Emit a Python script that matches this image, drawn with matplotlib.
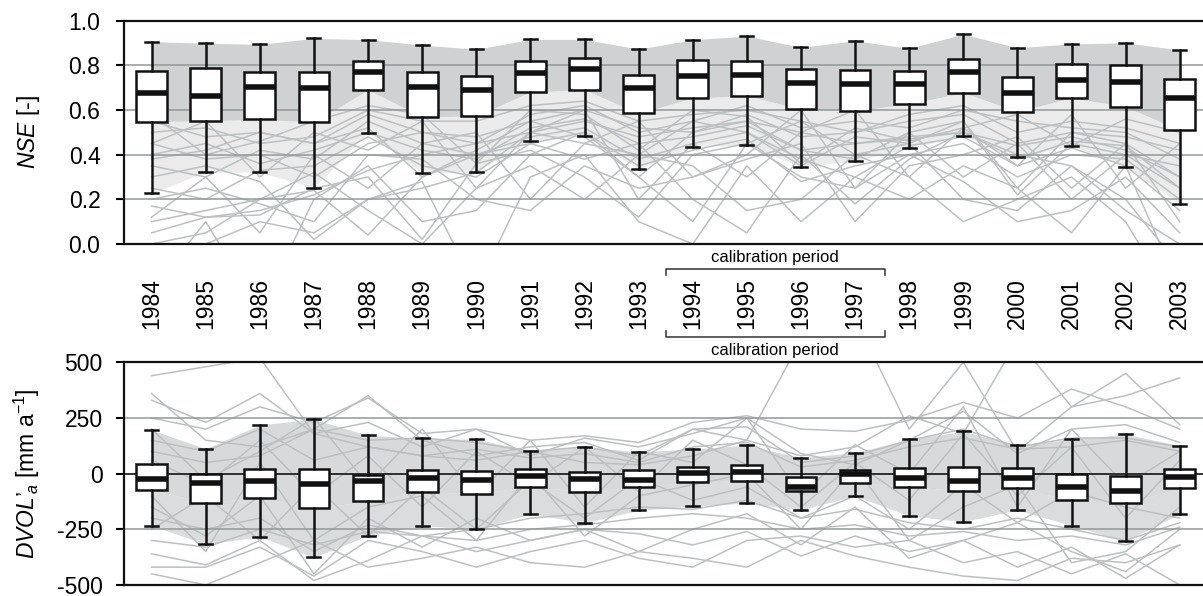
import numpy as np
import matplotlib
matplotlib.use("Agg")
import matplotlib.pyplot as plt
from matplotlib.lines import Line2D
from matplotlib.transforms import blended_transform_factory

plt.rcParams['font.family'] = ['Liberation Sans', 'DejaVu Sans']
plt.rcParams['mathtext.fontset'] = 'custom'
plt.rcParams['mathtext.rm'] = 'Liberation Sans'
plt.rcParams['mathtext.it'] = 'Liberation Sans:italic'
plt.rcParams['axes.unicode_minus'] = False

years = list(range(1984, 2004))
calib_years = [1994, 1997]

# NSE box statistics per year
nse_lo = [0.227, 0.322, 0.322, 0.252, 0.499, 0.319, 0.324, 0.463, 0.485, 0.337,
          0.436, 0.443, 0.346, 0.372, 0.428, 0.485, 0.391, 0.440, 0.346, 0.179]
nse_q1 = [0.548, 0.552, 0.558, 0.546, 0.690, 0.570, 0.573, 0.681, 0.691, 0.585,
          0.654, 0.664, 0.604, 0.597, 0.627, 0.678, 0.593, 0.655, 0.615, 0.510]
nse_med = [0.678, 0.663, 0.704, 0.697, 0.769, 0.704, 0.690, 0.767, 0.785, 0.700,
           0.752, 0.757, 0.719, 0.715, 0.715, 0.772, 0.676, 0.736, 0.727, 0.652]
nse_q3 = [0.773, 0.788, 0.769, 0.770, 0.818, 0.772, 0.752, 0.821, 0.831, 0.758,
          0.822, 0.819, 0.782, 0.779, 0.776, 0.830, 0.746, 0.807, 0.801, 0.739]
nse_hi = [0.906, 0.899, 0.894, 0.921, 0.915, 0.891, 0.872, 0.916, 0.916, 0.873,
          0.915, 0.931, 0.881, 0.910, 0.876, 0.940, 0.879, 0.896, 0.901, 0.869]

# DVOL'a box statistics per year [mm a-1]
dv_lo = [-233, -317, -283, -376, -278, -233, -250, -181, -220, -165,
         -145, -133, -163, -100, -190, -216, -163, -233, -302, -181]
dv_q1 = [-73, -130, -108, -156, -123, -81, -90, -58, -81, -58,
         -39, -31, -78, -40, -58, -78, -66, -118, -133, -66]
dv_med = [-22, -43, -33, -46, -31, -18, -28, -10, -22, -30,
          2, 9, -58, -3, -21, -33, -18, -58, -76, -13]
dv_q3 = [43, 0, 22, 19, -5, 16, 13, 19, 9, 16,
         31, 40, -13, 16, 27, 31, 27, -3, -9, 19]
dv_hi = [196, 112, 219, 244, 172, 159, 154, 103, 121, 97,
         111, 127, 72, 94, 154, 190, 129, 154, 177, 126]

# some of the individual catchment series (estimated)
nse_lines = [
    [0.17, 0.12, 0.15, 0.22, 0.33, 0.40, 0.45, 0.50, 0.55, 0.48, 0.52, 0.55, 0.50, 0.45, 0.47, 0.50, 0.44, 0.48, 0.42, 0.30],
    [0.05, 0.12, 0.13, 0.25, 0.30, 0.02, 0.36, 0.42, 0.30, 0.12, 0.40, 0.45, 0.30, 0.25, 0.40, 0.28, 0.10, 0.15, 0.30, 0.05],
    [0.10, 0.15, 0.20, 0.24, 0.04, 0.30, 0.40, 0.45, 0.38, 0.45, 0.20, 0.05, 0.40, 0.18, 0.38, 0.50, 0.40, 0.35, 0.20, -0.10],
    [0.30, 0.35, 0.28, 0.02, 0.20, 0.25, 0.32, 0.50, 0.45, 0.40, 0.55, 0.50, 0.35, 0.48, 0.45, 0.55, 0.22, 0.45, 0.40, 0.35],
    [-0.20, 0.10, -0.30, 0.20, 0.35, 0.10, 0.15, 0.40, 0.50, 0.30, 0.10, 0.45, 0.55, 0.40, 0.45, 0.20, 0.15, 0.35, 0.15, 0.00],
    [0.45, 0.38, 0.40, 0.30, 0.45, 0.50, 0.48, 0.55, 0.60, 0.52, 0.50, 0.58, 0.48, 0.50, 0.55, 0.58, 0.45, 0.50, 0.48, 0.42],
    [0.40, 0.45, 0.36, 0.42, 0.50, 0.42, 0.38, 0.52, 0.56, 0.45, 0.48, 0.53, 0.42, 0.45, 0.48, 0.50, 0.38, 0.46, 0.44, 0.25],
    [0.35, 0.30, 0.42, 0.38, 0.55, 0.45, 0.40, 0.48, 0.52, 0.38, 0.45, 0.50, 0.38, 0.30, 0.44, 0.48, 0.35, 0.43, 0.35, 0.15],
    [0.25, 0.20, 0.33, 0.35, 0.48, 0.35, 0.30, 0.45, 0.50, 0.35, 0.42, 0.47, 0.28, 0.35, 0.40, 0.45, 0.30, 0.40, 0.38, 0.20],
    [-0.10, 0.00, 0.10, 0.05, 0.20, 0.28, -0.20, 0.30, 0.40, 0.10, 0.00, 0.35, 0.10, 0.30, 0.20, 0.35, 0.25, 0.05, 0.35, -0.20],
    [0.50, 0.52, 0.45, 0.48, 0.60, 0.55, 0.55, 0.62, 0.64, 0.55, 0.58, 0.60, 0.55, 0.50, 0.58, 0.62, 0.50, 0.55, 0.52, 0.45],
    [0.55, 0.48, 0.50, 0.45, 0.58, 0.50, 0.45, 0.58, 0.62, 0.50, 0.55, 0.62, 0.52, 0.55, 0.52, 0.60, 0.55, 0.52, 0.50, 0.38],
    [0.00, 0.05, 0.20, 0.32, 0.15, 0.00, 0.25, 0.35, 0.20, 0.40, 0.35, 0.15, 0.20, 0.40, 0.30, 0.10, 0.20, 0.30, 0.10, -0.30],
    [0.20, 0.25, 0.18, 0.10, 0.40, 0.38, 0.20, 0.15, 0.35, 0.25, 0.30, 0.38, 0.45, 0.10, 0.35, 0.40, 0.48, 0.25, 0.45, 0.10],
    [0.38, 0.42, 0.50, 0.45, 0.52, 0.30, 0.42, 0.55, 0.48, 0.30, 0.50, 0.55, 0.42, 0.38, 0.50, 0.55, 0.25, 0.50, 0.45, 0.30],
    [0.58, 0.40, 0.46, 0.55, 0.62, 0.58, 0.36, 0.60, 0.58, 0.42, 0.60, 0.57, 0.36, 0.52, 0.46, 0.52, 0.58, 0.44, 0.56, 0.50],
    [0.12, 0.30, 0.05, 0.40, 0.25, 0.45, 0.50, 0.20, 0.45, 0.55, 0.30, 0.40, 0.60, 0.25, 0.50, 0.30, 0.45, 0.20, 0.40, 0.25],
    [0.45, 0.55, 0.30, 0.50, 0.42, 0.55, 0.25, 0.50, 0.60, 0.20, 0.45, 0.30, 0.50, 0.60, 0.30, 0.52, 0.35, 0.58, 0.25, 0.45],
]
dv_lines = [
    [440, 480, 520, 180, 120, 80, 60, 100, 50, 40, 80, 150, 600, 700, 200, 500, 100, 300, 350, 430],
    [360, 150, 120, 200, 350, 150, 80, 120, 140, 60, 200, 150, 80, 120, 260, 180, 600, 300, 450, 220],
    [330, 230, 360, 180, 230, 120, 200, 80, 160, 120, 180, 250, 90, 40, 150, 280, 90, 200, 220, 140],
    [-360, -410, -300, -480, -390, -280, -350, -300, -250, -270, -320, -260, -370, -280, -350, -300, -420, -330, -470, -320],
    [-420, -420, -330, -460, -300, -350, -420, -350, -300, -380, -420, -300, -280, -330, -300, -400, -350, -450, -360, -500],
    [150, 100, 200, 60, 120, 80, 110, 70, 90, 50, 120, 140, 30, 60, 120, 160, 110, 120, 150, 100],
    [-300, -330, -250, -320, -260, -280, -300, -250, -230, -200, -180, -200, -250, -230, -280, -260, -300, -280, -320, -240],
    [100, 50, 80, 200, 150, 160, 140, 100, 120, 80, 200, 210, 50, 80, 150, 200, 120, 160, 160, 120],
    [-200, -250, -200, -350, -230, -280, -250, -200, -180, -150, -160, -120, -200, -160, -220, -250, -200, -250, -300, -220],
    [-450, -500, -400, -300, -420, -380, -330, -400, -420, -350, -380, -420, -300, -370, -420, -460, -480, -380, -400, -320],
    [250, 200, 300, 230, 340, 180, 200, 150, 170, 140, 230, 260, 200, 190, 240, 320, 250, 380, 300, 200],
    [-150, -280, -100, -450, -200, -330, -200, -300, -250, -350, -250, -180, -320, -150, -380, -300, -220, -350, -440, -250],
    [60, -50, 150, -100, 80, -150, 100, -50, 120, -80, 150, 40, -150, 50, -120, 180, -100, 120, -200, 60],
    [-250, -100, -300, -50, -280, -60, -250, -30, -200, -20, -120, -60, -200, -100, -250, -50, -220, -80, -150, -200],
    [200, -30, 100, 250, -50, 200, -100, 150, -150, 100, 50, 250, -100, 130, 0, 300, -150, 200, -50, 100],
    [-100, -350, 50, -300, -150, -100, -300, 0, -280, -100, -50, 0, -250, 30, -300, -150, -50, -400, -350, -150],
]

LINE_GREY = '#bdc0c2'
GRID_GREY = '#8f9999'


def draw_panel(ax, lo, q1, med, q3, hi, lines, grid_vals, dense_alpha, light_alpha, zero_line=None):
    ax.fill_between(years, q1, hi, color=LINE_GREY, alpha=dense_alpha, lw=0, zorder=1)
    ax.fill_between(years, lo, q1, color=LINE_GREY, alpha=light_alpha, lw=0, zorder=1)
    for s in lines:
        ax.plot(years, s, color=LINE_GREY, lw=1.1, zorder=2)
    for g in grid_vals:
        ax.axhline(g, color=GRID_GREY, lw=1.1, zorder=3)
    if zero_line is not None:
        ax.axhline(zero_line, color='#222222', lw=1.3, zorder=3)
    stats = [dict(whislo=a, q1=b, med=c, q3=d, whishi=e, fliers=[])
             for a, b, c, d, e in zip(lo, q1, med, q3, hi)]
    ax.bxp(stats, positions=years, widths=0.57, capwidths=0.24,
           patch_artist=True, showfliers=False, manage_ticks=False,
           boxprops=dict(facecolor='white', edgecolor='#111111', lw=1.8),
           medianprops=dict(color='#111111', lw=4),
           whiskerprops=dict(color='#111111', lw=1.8),
           capprops=dict(color='#111111', lw=1.8),
           zorder=4)
    ax.set_xlim(1983.49, 2003.43)
    ax.set_xticks([])
    ax.spines['right'].set_visible(False)
    for sp in ['left', 'top', 'bottom']:
        ax.spines[sp].set_linewidth(1.6)
        ax.spines[sp].set_color('#111111')
        ax.spines[sp].set_zorder(5)
    ax.tick_params(axis='y', direction='out', length=6, width=1.5, labelsize=16.5)


fig = plt.figure(figsize=(12.03, 5.96), dpi=100)
ax1 = fig.add_axes([0.1031, 0.5906, 0.8969, 0.3747])
ax2 = fig.add_axes([0.1031, 0.0185, 0.8969, 0.3736])

draw_panel(ax1, nse_lo, nse_q1, nse_med, nse_q3, nse_hi, nse_lines,
           [0.2, 0.4, 0.6, 0.8], 0.72, 0.3)
ax1.set_ylim(0, 1)
ax1.set_yticks(np.arange(0, 1.01, 0.2))
ax1.set_yticklabels([f'{v:.1f}' for v in np.arange(0, 1.01, 0.2)])
ax1.tick_params(axis='y', pad=11)

draw_panel(ax2, dv_lo, dv_q1, dv_med, dv_q3, dv_hi, dv_lines,
           [250, -250], 0.6, 0.55, zero_line=0)
ax2.set_ylim(-500, 500)
ax2.set_yticks([-500, -250, 0, 250, 500])
ax2.tick_params(axis='y', pad=9.5)

fig.text(0.024, 0.778, r'$\mathit{NSE}$ [-]', rotation=90, ha='center', va='center', fontsize=16.5)
fig.text(0.022, 0.205, '$\\mathit{DVOL\u2019}_{\\!\\mathit{a}}$ [mm a$^{\\mathregular{-1}}$]',
         rotation=90, ha='center', va='center', fontsize=16.5)

# year labels between the panels
tr = blended_transform_factory(ax1.transData, fig.transFigure)
for y in years:
    fig.text(y, 0.490, str(y), transform=tr, rotation=90, ha='center', va='center', fontsize=16.5)

# calibration period brackets
x0, x1 = calib_years[0] - 0.5, calib_years[1] + 0.55
yt, yb = 1 - 269 / 596, 1 - 337 / 596
tick = 6 / 596
for yy, d in [(yt, -tick), (yb, tick)]:
    fig.add_artist(Line2D([x0, x0, x1, x1], [yy + d, yy, yy, yy + d], transform=tr,
                          color='#333333', lw=1.1))
xm = (x0 + x1) / 2
fig.text(xm, 1 - 257 / 596, 'calibration period', transform=tr, ha='center', va='center', fontsize=12)
fig.text(xm, 1 - 350 / 596, 'calibration period', transform=tr, ha='center', va='center', fontsize=12)

fig.savefig('out.png', dpi=100)
